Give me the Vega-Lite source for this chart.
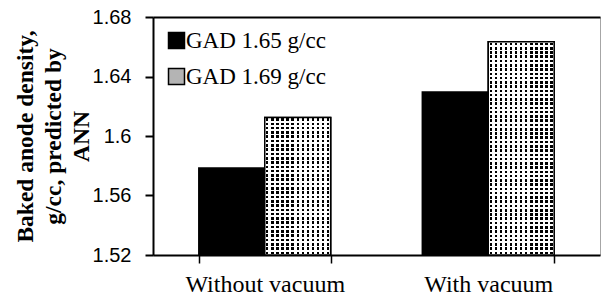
{
  "$schema": "https://vega.github.io/schema/vega-lite/v6.json",
  "width": 447,
  "height": 238,
  "autosize": {"type": "none"},
  "padding": {"left": 153, "top": 17, "right": 2, "bottom": 40},
  "background": "white",
  "config": {"view": {"stroke": "#a6a6a6", "strokeWidth": 1}},
  "data": {
    "values": [
      {"condition": "Without vacuum", "series": "GAD 1.65 g/cc", "density": 1.5785},
      {"condition": "Without vacuum", "series": "GAD 1.69 g/cc", "density": 1.6125},
      {"condition": "With vacuum", "series": "GAD 1.65 g/cc", "density": 1.6295},
      {"condition": "With vacuum", "series": "GAD 1.69 g/cc", "density": 1.6633}
    ]
  },
  "encoding": {
    "x": {
      "field": "condition",
      "type": "nominal",
      "sort": ["Without vacuum", "With vacuum"],
      "scale": {"paddingInner": 0.41, "paddingOuter": 0.205},
      "axis": {
        "title": null,
        "labelAngle": 0,
        "labelFont": "Liberation Serif",
        "labelFontSize": 24,
        "labelColor": "black",
        "labelPadding": 9,
        "domainColor": "black",
        "domainWidth": 2,
        "tickColor": "black",
        "tickWidth": 1.5,
        "tickSize": 8,
        "tickBand": "extent"
      }
    },
    "xOffset": {
      "field": "series",
      "type": "nominal",
      "sort": ["GAD 1.65 g/cc", "GAD 1.69 g/cc"],
      "scale": {"paddingInner": 0, "paddingOuter": 0}
    },
    "y": {
      "field": "density",
      "type": "quantitative",
      "scale": {"domain": [1.52, 1.68], "zero": false, "nice": false},
      "axis": {
        "values": [1.52, 1.56, 1.6, 1.64, 1.68],
        "format": ".2~f",
        "labelFont": "Liberation Sans",
        "labelFontSize": 20,
        "labelColor": "black",
        "labelPadding": 14,
        "domainColor": "black",
        "domainWidth": 2,
        "tickColor": "black",
        "tickWidth": 2,
        "tickSize": 8,
        "grid": true,
        "gridWidth": 2,
        "gridColor": {"condition": {"test": "datum.value == 1.68", "value": "black"}, "value": "transparent"},
        "title": ["Baked anode density,", "g/cc, predicted by", "ANN"],
        "titleFont": "Liberation Serif",
        "titleFontWeight": "bold",
        "titleFontSize": 23.5,
        "titleLineHeight": 28,
        "titleColor": "black",
        "titleAngle": -90,
        "titleAlign": "center",
        "titleBaseline": "alphabetic",
        "titleX": -121,
        "titleY": 119
      }
    },
    "y2": {"datum": 1.52}
  },
  "layer": [
    {
      "mark": {"type": "bar", "stroke": "black", "strokeWidth": 1.5, "clip": true},
      "encoding": {
        "fill": {
          "field": "series",
          "type": "nominal",
          "scale": {"range": ["black", "#b4b4b4"]},
          "legend": {
            "orient": "none",
            "legendX": 12,
            "legendY": 12,
            "title": null,
            "padding": 0,
            "symbolType": "square",
            "symbolSize": 256,
            "symbolStrokeColor": "black",
            "symbolStrokeWidth": 1.5,
            "labelFont": "Liberation Serif",
            "labelFontSize": 23,
            "labelColor": "black",
            "labelOffset": -2,
            "rowPadding": 12
          }
        }
      }
    },
    {
      "transform": [{"filter": "datum.series === 'GAD 1.69 g/cc'"}],
      "mark": {
        "type": "bar",
        "clip": true,
        "fill": {
          "gradient": "linear", "x1": 0, "y1": 0, "x2": 1, "y2": 0,
          "stops": [
            {"offset": 0.0208, "color": "#fff"}, {"offset": 0.0208, "color": "#000"}, {"offset": 0.0562, "color": "#000"}, {"offset": 0.0562, "color": "#fff"},
            {"offset": 0.0977, "color": "#fff"}, {"offset": 0.0977, "color": "#000"}, {"offset": 0.1331, "color": "#000"}, {"offset": 0.1331, "color": "#fff"},
            {"offset": 0.1746, "color": "#fff"}, {"offset": 0.1746, "color": "#000"}, {"offset": 0.2100, "color": "#000"}, {"offset": 0.2100, "color": "#fff"},
            {"offset": 0.2515, "color": "#fff"}, {"offset": 0.2515, "color": "#000"}, {"offset": 0.2869, "color": "#000"}, {"offset": 0.2869, "color": "#fff"},
            {"offset": 0.3285, "color": "#fff"}, {"offset": 0.3285, "color": "#000"}, {"offset": 0.3639, "color": "#000"}, {"offset": 0.3639, "color": "#fff"},
            {"offset": 0.4054, "color": "#fff"}, {"offset": 0.4054, "color": "#000"}, {"offset": 0.4408, "color": "#000"}, {"offset": 0.4408, "color": "#fff"},
            {"offset": 0.4823, "color": "#fff"}, {"offset": 0.4823, "color": "#000"}, {"offset": 0.5177, "color": "#000"}, {"offset": 0.5177, "color": "#fff"},
            {"offset": 0.5592, "color": "#fff"}, {"offset": 0.5592, "color": "#000"}, {"offset": 0.5946, "color": "#000"}, {"offset": 0.5946, "color": "#fff"},
            {"offset": 0.6362, "color": "#fff"}, {"offset": 0.6362, "color": "#000"}, {"offset": 0.6715, "color": "#000"}, {"offset": 0.6715, "color": "#fff"},
            {"offset": 0.7131, "color": "#fff"}, {"offset": 0.7131, "color": "#000"}, {"offset": 0.7485, "color": "#000"}, {"offset": 0.7485, "color": "#fff"},
            {"offset": 0.7900, "color": "#fff"}, {"offset": 0.7900, "color": "#000"}, {"offset": 0.8254, "color": "#000"}, {"offset": 0.8254, "color": "#fff"},
            {"offset": 0.8669, "color": "#fff"}, {"offset": 0.8669, "color": "#000"}, {"offset": 0.9023, "color": "#000"}, {"offset": 0.9023, "color": "#fff"},
            {"offset": 0.9438, "color": "#fff"}, {"offset": 0.9438, "color": "#000"}, {"offset": 0.9792, "color": "#000"}, {"offset": 0.9792, "color": "#fff"}
          ]
        }
      }
    },
    {
      "transform": [{"filter": "datum.series === 'GAD 1.69 g/cc' && datum.condition === 'Without vacuum'"}],
      "mark": {
        "type": "bar",
        "clip": true,
        "fill": {
          "gradient": "linear", "x1": 0, "y1": 0, "x2": 0, "y2": 1,
          "stops": [
            {"offset": 0.00625, "color": "#fff"}, {"offset": 0.00625, "color": "rgba(255,255,255,0)"}, {"offset": 0.025, "color": "rgba(255,255,255,0)"}, {"offset": 0.025, "color": "#fff"},
            {"offset": 0.0375, "color": "#fff"}, {"offset": 0.0375, "color": "rgba(255,255,255,0)"}, {"offset": 0.05625, "color": "rgba(255,255,255,0)"}, {"offset": 0.05625, "color": "#fff"},
            {"offset": 0.06875, "color": "#fff"}, {"offset": 0.06875, "color": "rgba(255,255,255,0)"}, {"offset": 0.0875, "color": "rgba(255,255,255,0)"}, {"offset": 0.0875, "color": "#fff"},
            {"offset": 0.1, "color": "#fff"}, {"offset": 0.1, "color": "rgba(255,255,255,0)"}, {"offset": 0.11875, "color": "rgba(255,255,255,0)"}, {"offset": 0.11875, "color": "#fff"},
            {"offset": 0.13125, "color": "#fff"}, {"offset": 0.13125, "color": "rgba(255,255,255,0)"}, {"offset": 0.15, "color": "rgba(255,255,255,0)"}, {"offset": 0.15, "color": "#fff"},
            {"offset": 0.1625, "color": "#fff"}, {"offset": 0.1625, "color": "rgba(255,255,255,0)"}, {"offset": 0.18125, "color": "rgba(255,255,255,0)"}, {"offset": 0.18125, "color": "#fff"},
            {"offset": 0.19375, "color": "#fff"}, {"offset": 0.19375, "color": "rgba(255,255,255,0)"}, {"offset": 0.2125, "color": "rgba(255,255,255,0)"}, {"offset": 0.2125, "color": "#fff"},
            {"offset": 0.225, "color": "#fff"}, {"offset": 0.225, "color": "rgba(255,255,255,0)"}, {"offset": 0.24375, "color": "rgba(255,255,255,0)"}, {"offset": 0.24375, "color": "#fff"},
            {"offset": 0.25625, "color": "#fff"}, {"offset": 0.25625, "color": "rgba(255,255,255,0)"}, {"offset": 0.275, "color": "rgba(255,255,255,0)"}, {"offset": 0.275, "color": "#fff"},
            {"offset": 0.2875, "color": "#fff"}, {"offset": 0.2875, "color": "rgba(255,255,255,0)"}, {"offset": 0.30625, "color": "rgba(255,255,255,0)"}, {"offset": 0.30625, "color": "#fff"},
            {"offset": 0.31875, "color": "#fff"}, {"offset": 0.31875, "color": "rgba(255,255,255,0)"}, {"offset": 0.3375, "color": "rgba(255,255,255,0)"}, {"offset": 0.3375, "color": "#fff"},
            {"offset": 0.35, "color": "#fff"}, {"offset": 0.35, "color": "rgba(255,255,255,0)"}, {"offset": 0.36875, "color": "rgba(255,255,255,0)"}, {"offset": 0.36875, "color": "#fff"},
            {"offset": 0.38125, "color": "#fff"}, {"offset": 0.38125, "color": "rgba(255,255,255,0)"}, {"offset": 0.4, "color": "rgba(255,255,255,0)"}, {"offset": 0.4, "color": "#fff"},
            {"offset": 0.4125, "color": "#fff"}, {"offset": 0.4125, "color": "rgba(255,255,255,0)"}, {"offset": 0.43125, "color": "rgba(255,255,255,0)"}, {"offset": 0.43125, "color": "#fff"},
            {"offset": 0.44375, "color": "#fff"}, {"offset": 0.44375, "color": "rgba(255,255,255,0)"}, {"offset": 0.4625, "color": "rgba(255,255,255,0)"}, {"offset": 0.4625, "color": "#fff"},
            {"offset": 0.475, "color": "#fff"}, {"offset": 0.475, "color": "rgba(255,255,255,0)"}, {"offset": 0.49375, "color": "rgba(255,255,255,0)"}, {"offset": 0.49375, "color": "#fff"},
            {"offset": 0.50625, "color": "#fff"}, {"offset": 0.50625, "color": "rgba(255,255,255,0)"}, {"offset": 0.525, "color": "rgba(255,255,255,0)"}, {"offset": 0.525, "color": "#fff"},
            {"offset": 0.5375, "color": "#fff"}, {"offset": 0.5375, "color": "rgba(255,255,255,0)"}, {"offset": 0.55625, "color": "rgba(255,255,255,0)"}, {"offset": 0.55625, "color": "#fff"},
            {"offset": 0.56875, "color": "#fff"}, {"offset": 0.56875, "color": "rgba(255,255,255,0)"}, {"offset": 0.5875, "color": "rgba(255,255,255,0)"}, {"offset": 0.5875, "color": "#fff"},
            {"offset": 0.6, "color": "#fff"}, {"offset": 0.6, "color": "rgba(255,255,255,0)"}, {"offset": 0.61875, "color": "rgba(255,255,255,0)"}, {"offset": 0.61875, "color": "#fff"},
            {"offset": 0.63125, "color": "#fff"}, {"offset": 0.63125, "color": "rgba(255,255,255,0)"}, {"offset": 0.65, "color": "rgba(255,255,255,0)"}, {"offset": 0.65, "color": "#fff"},
            {"offset": 0.6625, "color": "#fff"}, {"offset": 0.6625, "color": "rgba(255,255,255,0)"}, {"offset": 0.68125, "color": "rgba(255,255,255,0)"}, {"offset": 0.68125, "color": "#fff"},
            {"offset": 0.69375, "color": "#fff"}, {"offset": 0.69375, "color": "rgba(255,255,255,0)"}, {"offset": 0.7125, "color": "rgba(255,255,255,0)"}, {"offset": 0.7125, "color": "#fff"},
            {"offset": 0.725, "color": "#fff"}, {"offset": 0.725, "color": "rgba(255,255,255,0)"}, {"offset": 0.74375, "color": "rgba(255,255,255,0)"}, {"offset": 0.74375, "color": "#fff"},
            {"offset": 0.75625, "color": "#fff"}, {"offset": 0.75625, "color": "rgba(255,255,255,0)"}, {"offset": 0.775, "color": "rgba(255,255,255,0)"}, {"offset": 0.775, "color": "#fff"},
            {"offset": 0.7875, "color": "#fff"}, {"offset": 0.7875, "color": "rgba(255,255,255,0)"}, {"offset": 0.80625, "color": "rgba(255,255,255,0)"}, {"offset": 0.80625, "color": "#fff"},
            {"offset": 0.81875, "color": "#fff"}, {"offset": 0.81875, "color": "rgba(255,255,255,0)"}, {"offset": 0.8375, "color": "rgba(255,255,255,0)"}, {"offset": 0.8375, "color": "#fff"},
            {"offset": 0.85, "color": "#fff"}, {"offset": 0.85, "color": "rgba(255,255,255,0)"}, {"offset": 0.86875, "color": "rgba(255,255,255,0)"}, {"offset": 0.86875, "color": "#fff"},
            {"offset": 0.88125, "color": "#fff"}, {"offset": 0.88125, "color": "rgba(255,255,255,0)"}, {"offset": 0.9, "color": "rgba(255,255,255,0)"}, {"offset": 0.9, "color": "#fff"},
            {"offset": 0.9125, "color": "#fff"}, {"offset": 0.9125, "color": "rgba(255,255,255,0)"}, {"offset": 0.93125, "color": "rgba(255,255,255,0)"}, {"offset": 0.93125, "color": "#fff"},
            {"offset": 0.94375, "color": "#fff"}, {"offset": 0.94375, "color": "rgba(255,255,255,0)"}, {"offset": 0.9625, "color": "rgba(255,255,255,0)"}, {"offset": 0.9625, "color": "#fff"},
            {"offset": 0.975, "color": "#fff"}, {"offset": 0.975, "color": "rgba(255,255,255,0)"}, {"offset": 0.99375, "color": "rgba(255,255,255,0)"}, {"offset": 0.99375, "color": "#fff"}
          ]
        }
      }
    },
    {
      "transform": [{"filter": "datum.series === 'GAD 1.69 g/cc' && datum.condition === 'With vacuum'"}],
      "mark": {
        "type": "bar",
        "clip": true,
        "fill": {
          "gradient": "linear", "x1": 0, "y1": 0, "x2": 0, "y2": 1,
          "stops": [
            {"offset": 0.004, "color": "#fff"}, {"offset": 0.004, "color": "rgba(255,255,255,0)"}, {"offset": 0.016, "color": "rgba(255,255,255,0)"}, {"offset": 0.016, "color": "#fff"},
            {"offset": 0.024, "color": "#fff"}, {"offset": 0.024, "color": "rgba(255,255,255,0)"}, {"offset": 0.036, "color": "rgba(255,255,255,0)"}, {"offset": 0.036, "color": "#fff"},
            {"offset": 0.044, "color": "#fff"}, {"offset": 0.044, "color": "rgba(255,255,255,0)"}, {"offset": 0.056, "color": "rgba(255,255,255,0)"}, {"offset": 0.056, "color": "#fff"},
            {"offset": 0.064, "color": "#fff"}, {"offset": 0.064, "color": "rgba(255,255,255,0)"}, {"offset": 0.076, "color": "rgba(255,255,255,0)"}, {"offset": 0.076, "color": "#fff"},
            {"offset": 0.084, "color": "#fff"}, {"offset": 0.084, "color": "rgba(255,255,255,0)"}, {"offset": 0.096, "color": "rgba(255,255,255,0)"}, {"offset": 0.096, "color": "#fff"},
            {"offset": 0.104, "color": "#fff"}, {"offset": 0.104, "color": "rgba(255,255,255,0)"}, {"offset": 0.116, "color": "rgba(255,255,255,0)"}, {"offset": 0.116, "color": "#fff"},
            {"offset": 0.124, "color": "#fff"}, {"offset": 0.124, "color": "rgba(255,255,255,0)"}, {"offset": 0.136, "color": "rgba(255,255,255,0)"}, {"offset": 0.136, "color": "#fff"},
            {"offset": 0.144, "color": "#fff"}, {"offset": 0.144, "color": "rgba(255,255,255,0)"}, {"offset": 0.156, "color": "rgba(255,255,255,0)"}, {"offset": 0.156, "color": "#fff"},
            {"offset": 0.164, "color": "#fff"}, {"offset": 0.164, "color": "rgba(255,255,255,0)"}, {"offset": 0.176, "color": "rgba(255,255,255,0)"}, {"offset": 0.176, "color": "#fff"},
            {"offset": 0.184, "color": "#fff"}, {"offset": 0.184, "color": "rgba(255,255,255,0)"}, {"offset": 0.196, "color": "rgba(255,255,255,0)"}, {"offset": 0.196, "color": "#fff"},
            {"offset": 0.204, "color": "#fff"}, {"offset": 0.204, "color": "rgba(255,255,255,0)"}, {"offset": 0.216, "color": "rgba(255,255,255,0)"}, {"offset": 0.216, "color": "#fff"},
            {"offset": 0.224, "color": "#fff"}, {"offset": 0.224, "color": "rgba(255,255,255,0)"}, {"offset": 0.236, "color": "rgba(255,255,255,0)"}, {"offset": 0.236, "color": "#fff"},
            {"offset": 0.244, "color": "#fff"}, {"offset": 0.244, "color": "rgba(255,255,255,0)"}, {"offset": 0.256, "color": "rgba(255,255,255,0)"}, {"offset": 0.256, "color": "#fff"},
            {"offset": 0.264, "color": "#fff"}, {"offset": 0.264, "color": "rgba(255,255,255,0)"}, {"offset": 0.276, "color": "rgba(255,255,255,0)"}, {"offset": 0.276, "color": "#fff"},
            {"offset": 0.284, "color": "#fff"}, {"offset": 0.284, "color": "rgba(255,255,255,0)"}, {"offset": 0.296, "color": "rgba(255,255,255,0)"}, {"offset": 0.296, "color": "#fff"},
            {"offset": 0.304, "color": "#fff"}, {"offset": 0.304, "color": "rgba(255,255,255,0)"}, {"offset": 0.316, "color": "rgba(255,255,255,0)"}, {"offset": 0.316, "color": "#fff"},
            {"offset": 0.324, "color": "#fff"}, {"offset": 0.324, "color": "rgba(255,255,255,0)"}, {"offset": 0.336, "color": "rgba(255,255,255,0)"}, {"offset": 0.336, "color": "#fff"},
            {"offset": 0.344, "color": "#fff"}, {"offset": 0.344, "color": "rgba(255,255,255,0)"}, {"offset": 0.356, "color": "rgba(255,255,255,0)"}, {"offset": 0.356, "color": "#fff"},
            {"offset": 0.364, "color": "#fff"}, {"offset": 0.364, "color": "rgba(255,255,255,0)"}, {"offset": 0.376, "color": "rgba(255,255,255,0)"}, {"offset": 0.376, "color": "#fff"},
            {"offset": 0.384, "color": "#fff"}, {"offset": 0.384, "color": "rgba(255,255,255,0)"}, {"offset": 0.396, "color": "rgba(255,255,255,0)"}, {"offset": 0.396, "color": "#fff"},
            {"offset": 0.404, "color": "#fff"}, {"offset": 0.404, "color": "rgba(255,255,255,0)"}, {"offset": 0.416, "color": "rgba(255,255,255,0)"}, {"offset": 0.416, "color": "#fff"},
            {"offset": 0.424, "color": "#fff"}, {"offset": 0.424, "color": "rgba(255,255,255,0)"}, {"offset": 0.436, "color": "rgba(255,255,255,0)"}, {"offset": 0.436, "color": "#fff"},
            {"offset": 0.444, "color": "#fff"}, {"offset": 0.444, "color": "rgba(255,255,255,0)"}, {"offset": 0.456, "color": "rgba(255,255,255,0)"}, {"offset": 0.456, "color": "#fff"},
            {"offset": 0.464, "color": "#fff"}, {"offset": 0.464, "color": "rgba(255,255,255,0)"}, {"offset": 0.476, "color": "rgba(255,255,255,0)"}, {"offset": 0.476, "color": "#fff"},
            {"offset": 0.484, "color": "#fff"}, {"offset": 0.484, "color": "rgba(255,255,255,0)"}, {"offset": 0.496, "color": "rgba(255,255,255,0)"}, {"offset": 0.496, "color": "#fff"},
            {"offset": 0.504, "color": "#fff"}, {"offset": 0.504, "color": "rgba(255,255,255,0)"}, {"offset": 0.516, "color": "rgba(255,255,255,0)"}, {"offset": 0.516, "color": "#fff"},
            {"offset": 0.524, "color": "#fff"}, {"offset": 0.524, "color": "rgba(255,255,255,0)"}, {"offset": 0.536, "color": "rgba(255,255,255,0)"}, {"offset": 0.536, "color": "#fff"},
            {"offset": 0.544, "color": "#fff"}, {"offset": 0.544, "color": "rgba(255,255,255,0)"}, {"offset": 0.556, "color": "rgba(255,255,255,0)"}, {"offset": 0.556, "color": "#fff"},
            {"offset": 0.564, "color": "#fff"}, {"offset": 0.564, "color": "rgba(255,255,255,0)"}, {"offset": 0.576, "color": "rgba(255,255,255,0)"}, {"offset": 0.576, "color": "#fff"},
            {"offset": 0.584, "color": "#fff"}, {"offset": 0.584, "color": "rgba(255,255,255,0)"}, {"offset": 0.596, "color": "rgba(255,255,255,0)"}, {"offset": 0.596, "color": "#fff"},
            {"offset": 0.604, "color": "#fff"}, {"offset": 0.604, "color": "rgba(255,255,255,0)"}, {"offset": 0.616, "color": "rgba(255,255,255,0)"}, {"offset": 0.616, "color": "#fff"},
            {"offset": 0.624, "color": "#fff"}, {"offset": 0.624, "color": "rgba(255,255,255,0)"}, {"offset": 0.636, "color": "rgba(255,255,255,0)"}, {"offset": 0.636, "color": "#fff"},
            {"offset": 0.644, "color": "#fff"}, {"offset": 0.644, "color": "rgba(255,255,255,0)"}, {"offset": 0.656, "color": "rgba(255,255,255,0)"}, {"offset": 0.656, "color": "#fff"},
            {"offset": 0.664, "color": "#fff"}, {"offset": 0.664, "color": "rgba(255,255,255,0)"}, {"offset": 0.676, "color": "rgba(255,255,255,0)"}, {"offset": 0.676, "color": "#fff"},
            {"offset": 0.684, "color": "#fff"}, {"offset": 0.684, "color": "rgba(255,255,255,0)"}, {"offset": 0.696, "color": "rgba(255,255,255,0)"}, {"offset": 0.696, "color": "#fff"},
            {"offset": 0.704, "color": "#fff"}, {"offset": 0.704, "color": "rgba(255,255,255,0)"}, {"offset": 0.716, "color": "rgba(255,255,255,0)"}, {"offset": 0.716, "color": "#fff"},
            {"offset": 0.724, "color": "#fff"}, {"offset": 0.724, "color": "rgba(255,255,255,0)"}, {"offset": 0.736, "color": "rgba(255,255,255,0)"}, {"offset": 0.736, "color": "#fff"},
            {"offset": 0.744, "color": "#fff"}, {"offset": 0.744, "color": "rgba(255,255,255,0)"}, {"offset": 0.756, "color": "rgba(255,255,255,0)"}, {"offset": 0.756, "color": "#fff"},
            {"offset": 0.764, "color": "#fff"}, {"offset": 0.764, "color": "rgba(255,255,255,0)"}, {"offset": 0.776, "color": "rgba(255,255,255,0)"}, {"offset": 0.776, "color": "#fff"},
            {"offset": 0.784, "color": "#fff"}, {"offset": 0.784, "color": "rgba(255,255,255,0)"}, {"offset": 0.796, "color": "rgba(255,255,255,0)"}, {"offset": 0.796, "color": "#fff"},
            {"offset": 0.804, "color": "#fff"}, {"offset": 0.804, "color": "rgba(255,255,255,0)"}, {"offset": 0.816, "color": "rgba(255,255,255,0)"}, {"offset": 0.816, "color": "#fff"},
            {"offset": 0.824, "color": "#fff"}, {"offset": 0.824, "color": "rgba(255,255,255,0)"}, {"offset": 0.836, "color": "rgba(255,255,255,0)"}, {"offset": 0.836, "color": "#fff"},
            {"offset": 0.844, "color": "#fff"}, {"offset": 0.844, "color": "rgba(255,255,255,0)"}, {"offset": 0.856, "color": "rgba(255,255,255,0)"}, {"offset": 0.856, "color": "#fff"},
            {"offset": 0.864, "color": "#fff"}, {"offset": 0.864, "color": "rgba(255,255,255,0)"}, {"offset": 0.876, "color": "rgba(255,255,255,0)"}, {"offset": 0.876, "color": "#fff"},
            {"offset": 0.884, "color": "#fff"}, {"offset": 0.884, "color": "rgba(255,255,255,0)"}, {"offset": 0.896, "color": "rgba(255,255,255,0)"}, {"offset": 0.896, "color": "#fff"},
            {"offset": 0.904, "color": "#fff"}, {"offset": 0.904, "color": "rgba(255,255,255,0)"}, {"offset": 0.916, "color": "rgba(255,255,255,0)"}, {"offset": 0.916, "color": "#fff"},
            {"offset": 0.924, "color": "#fff"}, {"offset": 0.924, "color": "rgba(255,255,255,0)"}, {"offset": 0.936, "color": "rgba(255,255,255,0)"}, {"offset": 0.936, "color": "#fff"},
            {"offset": 0.944, "color": "#fff"}, {"offset": 0.944, "color": "rgba(255,255,255,0)"}, {"offset": 0.956, "color": "rgba(255,255,255,0)"}, {"offset": 0.956, "color": "#fff"},
            {"offset": 0.964, "color": "#fff"}, {"offset": 0.964, "color": "rgba(255,255,255,0)"}, {"offset": 0.976, "color": "rgba(255,255,255,0)"}, {"offset": 0.976, "color": "#fff"},
            {"offset": 0.984, "color": "#fff"}, {"offset": 0.984, "color": "rgba(255,255,255,0)"}, {"offset": 0.996, "color": "rgba(255,255,255,0)"}, {"offset": 0.996, "color": "#fff"}
          ]
        }
      }
    },
    {
      "transform": [{"filter": "datum.series === 'GAD 1.69 g/cc'"}],
      "mark": {"type": "bar", "clip": true, "fill": "transparent", "stroke": "black", "strokeWidth": 1.5}
    }
  ]
}
